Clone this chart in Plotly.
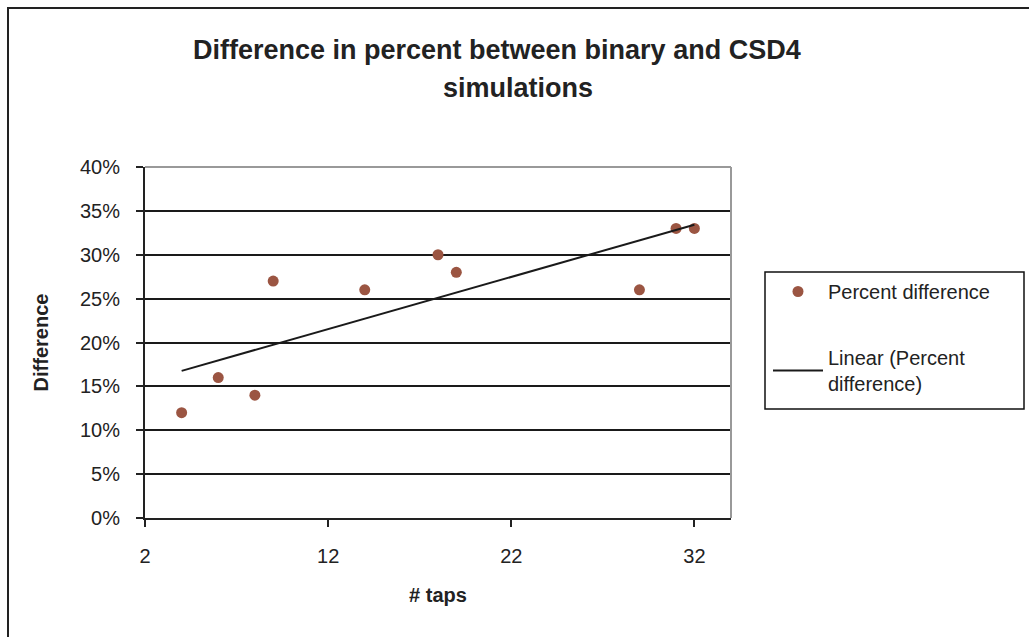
import numpy as np
import plotly.graph_objects as go

taps = [4, 6, 8, 9, 14, 18, 19, 29, 31, 32]
pct_diff = [0.12, 0.16, 0.14, 0.27, 0.26, 0.30, 0.28, 0.26, 0.33, 0.33]
y_ticks = [0, 0.05, 0.10, 0.15, 0.20, 0.25, 0.30, 0.35, 0.40]
x_ticks = [2, 12, 22, 32]

slope, intercept = np.polyfit(taps, pct_diff, 1)
trend_x = [min(taps), max(taps)]
trend_y = [slope * v + intercept for v in trend_x]

W, H = 1029, 637
L, R, T, B = 145, 731, 167, 518
FAM = "Liberation Sans, Arial, sans-serif"
INK = "#222"

fig = go.Figure()
fig.add_trace(go.Scatter(
    x=taps, y=pct_diff, mode="markers", name="Percent difference",
    marker=dict(color="#9B5542", size=11, line=dict(width=0)),
    legendgroup="a", cliponaxis=False))
fig.add_trace(go.Scatter(
    x=trend_x, y=trend_y, mode="lines", name="Linear (Percent<br>difference)",
    line=dict(color="#1a1a1a", width=2), legendgroup="b"))


def px_to_paper_x(p):
    return (p - L) / (R - L)


def px_to_paper_y(p):
    return (B - p) / (B - T)


fig.update_layout(
    width=W, height=H,
    margin=dict(l=L, r=W - R, t=T, b=H - B),
    paper_bgcolor="white", plot_bgcolor="white",
    font=dict(family=FAM, size=20, color=INK),
    showlegend=True,
    legend=dict(
        x=px_to_paper_x(768), y=px_to_paper_y(272), xanchor="left", yanchor="top",
        borderwidth=0, bgcolor="rgba(0,0,0,0)",
        font=dict(family=FAM, size=20, color=INK),
        tracegroupgap=37, traceorder="grouped", itemwidth=50),
    xaxis=dict(
        range=[2, 34], tickvals=x_ticks, ticktext=[str(v) for v in x_ticks],
        showgrid=False, zeroline=False, showline=True, linecolor=INK, linewidth=2,
        ticks="outside", ticklen=7, tickwidth=2, tickcolor=INK, ticklabelstandoff=12,
        title=dict(text="<b># taps</b>", standoff=22,
                   font=dict(family=FAM, size=20, color=INK))),
    yaxis=dict(
        range=[0, 0.40], tickvals=y_ticks, tickformat=".0%",
        showgrid=True, gridcolor="#1a1a1a", gridwidth=2,
        zeroline=False, showline=True, linecolor=INK, linewidth=2,
        ticks="outside", ticklen=7, tickwidth=2, tickcolor=INK, ticklabelstandoff=12,
        title=dict(text="<b>Difference</b>", standoff=26,
                   font=dict(family=FAM, size=20, color=INK))),
    shapes=[
        dict(type="line", xref="paper", yref="paper", x0=0, x1=1, y0=1, y1=1,
             line=dict(color="#999", width=2)),
        dict(type="line", xref="paper", yref="paper", x0=1, x1=1, y0=0, y1=1,
             line=dict(color="#999", width=2)),
        dict(type="rect", xref="paper", yref="paper",
             x0=px_to_paper_x(8), x1=px_to_paper_x(1040),
             y0=px_to_paper_y(650), y1=px_to_paper_y(8),
             line=dict(color=INK, width=2), layer="below"),
        dict(type="rect", xref="paper", yref="paper",
             x0=px_to_paper_x(765), x1=px_to_paper_x(1024),
             y0=px_to_paper_y(409), y1=px_to_paper_y(272),
             line=dict(color="#111", width=1.5), layer="below"),
    ],
    annotations=[
        dict(text="<b>Difference in percent between binary and CSD4</b>", xref="paper", yref="paper",
             x=px_to_paper_x(497), y=px_to_paper_y(50), xanchor="center", yanchor="middle",
             showarrow=False, font=dict(family=FAM, size=27, color=INK)),
        dict(text="<b>simulations</b>", xref="paper", yref="paper",
             x=px_to_paper_x(518), y=px_to_paper_y(88), xanchor="center", yanchor="middle",
             showarrow=False, font=dict(family=FAM, size=27, color=INK)),
    ],
)

fig.write_html("out.html")
